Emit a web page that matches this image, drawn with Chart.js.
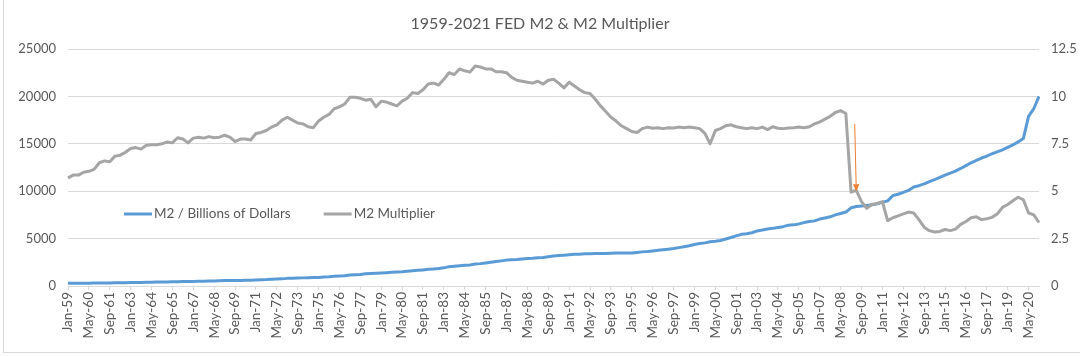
<!DOCTYPE html>
<html><head><meta charset="utf-8">
<script src="https://cdn.jsdelivr.net/npm/chart.js@4.4.1/dist/chart.umd.min.js"></script>
<style>
html,body{margin:0;padding:0;background:#fff;}
#wrap{position:relative;width:1080px;height:356px;overflow:hidden;}
#frame{position:absolute;left:3px;top:-1px;width:1076px;height:353px;border-left:1px solid #d9d9d9;border-bottom:1px solid #d9d9d9;pointer-events:none;}
</style></head><body>
<div id="wrap"><canvas id="c" width="1080" height="356"></canvas><div id="frame"></div></div>
<script>
// ---- categories: one point every 4 months, Jan-59 .. Jan-21 ----
const monthNames = ['Jan', 'May', 'Sep'];
const firstYear = 1959, lastYear = 2021;
const categories = [];
for (let y = firstYear; y <= lastYear; y++) {
  for (const m of monthNames) {
    if (y === lastYear && m !== 'Jan') break;
    categories.push(m + '-' + String(y % 100).padStart(2, '0'));
  }
}
const labelEvery = 4; // Jan-59, May-60, Sep-61 ...

// ---- M2, billions of dollars (left axis) ----
const m2Billions = [
  287, 293, 298,   298, 300, 305,   313, 320, 328,   336, 344, 352,   364, 372, 381,
  393, 400, 410,   425, 434, 444,   461, 465, 470,   483, 495, 510,   528, 537, 550,
  572, 578, 582,   590, 596, 611,   628, 655, 674,   713, 732, 752,   805, 820, 834,
  857, 871, 884,   908, 946, 980,   1027, 1060, 1090, 1163, 1190, 1225, 1285, 1310, 1340,
  1374, 1410, 1445, 1474, 1495, 1560, 1604, 1650, 1700, 1759, 1790, 1840, 1914, 2040, 2090,
  2133, 2180, 2220, 2310, 2360, 2430, 2500, 2580, 2650, 2730, 2770, 2790, 2840, 2900, 2930,
  2980, 3010, 3080, 3160, 3210, 3250, 3290, 3340, 3360, 3410, 3410, 3420, 3420, 3420, 3450,
  3470, 3490, 3480, 3490, 3540, 3600, 3640, 3700, 3760, 3820, 3880, 3950, 4050, 4150, 4250,
  4380, 4480, 4550, 4660, 4720, 4800, 4960, 5120, 5290, 5450, 5520, 5620, 5810, 5900, 6020,
  6080, 6180, 6260, 6420, 6450, 6550, 6690, 6800, 6870, 7060, 7180, 7300, 7500, 7650, 7800,
  8250, 8380, 8430, 8490, 8560, 8680, 8820, 8980, 9530, 9680, 9880, 10080, 10450, 10580, 10770,
  11020, 11230, 11450, 11700, 11900, 12120, 12400, 12700, 13000, 13250, 13500, 13700,
  13950, 14150, 14350, 14620, 14880, 15200, 15550, 17900, 18700, 20000
];

// ---- M2 multiplier (right axis) ----
const m2Multiplier = [
  5.7, 5.85, 5.85, 6.0, 6.05, 6.15, 6.5, 6.6, 6.55, 6.85,
  6.9, 7.05, 7.25, 7.3, 7.22, 7.42, 7.45, 7.45, 7.5, 7.6,
  7.55, 7.82, 7.75, 7.55, 7.8, 7.85, 7.8, 7.88, 7.82, 7.85,
  7.95, 7.85, 7.62, 7.75, 7.75, 7.7, 8.04, 8.1, 8.2, 8.38,
  8.5, 8.75, 8.9, 8.75, 8.6, 8.55, 8.4, 8.35, 8.7, 8.9,
  9.05, 9.35, 9.45, 9.6, 9.95, 9.95, 9.9, 9.8, 9.85, 9.45,
  9.75, 9.7, 9.6, 9.5, 9.75, 9.9, 10.2, 10.15, 10.35, 10.65,
  10.7, 10.6, 10.9, 11.25, 11.15, 11.45, 11.35, 11.28, 11.6, 11.55,
  11.45, 11.45, 11.3, 11.3, 11.25, 11.0, 10.85, 10.8, 10.75, 10.7,
  10.8, 10.65, 10.85, 10.9, 10.7, 10.45, 10.75, 10.55, 10.35, 10.2,
  10.15, 9.85, 9.5, 9.2, 8.9, 8.7, 8.45, 8.3, 8.15, 8.1,
  8.3, 8.38, 8.32, 8.35, 8.3, 8.35, 8.33, 8.38, 8.35, 8.38,
  8.35, 8.3, 8.05, 7.5, 8.2, 8.3, 8.45, 8.5, 8.4, 8.35,
  8.3, 8.35, 8.3, 8.38, 8.25, 8.4, 8.32, 8.3, 8.33, 8.35,
  8.38, 8.35, 8.4, 8.55, 8.65, 8.8, 8.95, 9.15, 9.25, 9.1,
  4.95, 5.05, 4.45, 4.1, 4.3, 4.35, 4.45, 3.45, 3.6, 3.7,
  3.8, 3.9, 3.85, 3.5, 3.1, 2.92, 2.85, 2.88, 2.98, 2.92,
  3.0, 3.25, 3.4, 3.6, 3.65, 3.5, 3.55, 3.62, 3.8, 4.15,
  4.3, 4.5, 4.68, 4.55, 3.85, 3.75, 3.35
];

// ---- axis ticks ----
const leftTicks = { min: 0, max: 25000, step: 5000 };
const rightTicks = { min: 0, max: 12.5, step: 2.5 };

// ---- annotation arrow (category position, multiplier value) ----
const arrowFrom = [150.7, 8.55];
const arrowTo = [151.0, 5.0];

const TXT = '#595959';
const FONT = 'Lato';

const excelLegend = {
  id: 'excelLegend',
  afterDraw(chart) {
    const ctx = chart.ctx, a = chart.chartArea;
    ctx.save();
    ctx.font = '13.5px ' + FONT;
    ctx.textBaseline = 'middle';
    ctx.fillStyle = TXT;
    let x = a.left + 56;
    const y = a.top + 165;
    chart.data.datasets.forEach(ds => {
      ctx.strokeStyle = ds.borderColor;
      ctx.lineWidth = 3;
      ctx.beginPath(); ctx.moveTo(x, y); ctx.lineTo(x + 28, y); ctx.stroke();
      x += 30;
      ctx.fillText(ds.label, x, y);
      x += ctx.measureText(ds.label).width + 33;
    });
    ctx.restore();
  }
};

const arrowPlugin = {
  id: 'arrow',
  afterDatasetsDraw(chart) {
    const xs = chart.scales.x, ys = chart.scales.y1, ctx = chart.ctx;
    const x1 = xs.getPixelForValue(arrowFrom[0]), y1 = ys.getPixelForValue(arrowFrom[1]);
    const x2 = xs.getPixelForValue(arrowTo[0]), y2 = ys.getPixelForValue(arrowTo[1]);
    const ang = Math.atan2(y2 - y1, x2 - x1);
    const L = 7, W = 3.2;
    ctx.save();
    ctx.strokeStyle = '#ED7D31'; ctx.fillStyle = '#ED7D31'; ctx.lineWidth = 1;
    ctx.beginPath(); ctx.moveTo(x1, y1);
    ctx.lineTo(x2 - Math.cos(ang) * L, y2 - Math.sin(ang) * L); ctx.stroke();
    ctx.beginPath(); ctx.moveTo(x2, y2);
    ctx.lineTo(x2 - Math.cos(ang) * L - Math.sin(ang) * W, y2 - Math.sin(ang) * L + Math.cos(ang) * W);
    ctx.lineTo(x2 - Math.cos(ang) * L + Math.sin(ang) * W, y2 - Math.sin(ang) * L - Math.cos(ang) * W);
    ctx.closePath(); ctx.fill();
    ctx.restore();
  }
};

function draw() {
  new Chart(document.getElementById('c'), {
    type: 'line',
    data: {
      labels: categories,
      datasets: [
        { label: 'M2 / Billions of Dollars', data: m2Billions, yAxisID: 'y',
          borderColor: '#5B9BD5', backgroundColor: '#5B9BD5', borderWidth: 3,
          pointRadius: 0, tension: 0, order: 1, borderJoinStyle: 'round' },
        { label: 'M2 Multiplier', data: m2Multiplier, yAxisID: 'y1',
          borderColor: '#A5A5A5', backgroundColor: '#A5A5A5', borderWidth: 3,
          pointRadius: 0, tension: 0, order: 0, borderJoinStyle: 'round' }
      ]
    },
    options: {
      responsive: false,
      animation: false,
      devicePixelRatio: 1,
      layout: { padding: 0 },
      plugins: {
        legend: { display: false },
        tooltip: { enabled: false },
        title: {
          display: true, text: '1959-2021 FED M2 & M2 Multiplier', color: TXT,
          font: { family: FONT, size: 16, weight: 'normal' },
          padding: { top: 14, bottom: 15.8 }
        }
      },
      scales: {
        x: {
          type: 'category', offset: false,
          grid: { drawOnChartArea: false, tickLength: 4,
                  color: c => (c.index % labelEvery === 0 ? '#d9d9d9' : 'rgba(0,0,0,0)') },
          border: { display: true, color: '#d9d9d9' },
          ticks: {
            autoSkip: false, minRotation: 90, maxRotation: 90, padding: 2, color: TXT,
            font: { family: FONT, size: 13.5 },
            callback: function (v, i) { return i % labelEvery === 0 ? this.getLabelForValue(v) : ''; }
          },
          afterFit: s => { s.height = 70; }
        },
        y: {
          position: 'left', min: leftTicks.min, max: leftTicks.max,
          ticks: { stepSize: leftTicks.step, padding: 12, color: TXT,
                   font: { family: FONT, size: 13 }, callback: v => String(v) },
          grid: { color: '#d9d9d9', drawTicks: false },
          border: { display: false },
          afterFit: s => { s.width = 68; }
        },
        y1: {
          position: 'right', min: rightTicks.min, max: rightTicks.max,
          ticks: { stepSize: rightTicks.step, padding: 12, color: TXT,
                   font: { family: FONT, size: 13 } },
          grid: { drawOnChartArea: false, drawTicks: false },
          border: { display: false },
          afterFit: s => { s.width = 41; }
        }
      }
    },
    plugins: [arrowPlugin, excelLegend]
  });
}
if (document.fonts && document.fonts.load) {
  Promise.all([document.fonts.load('13px Lato'), document.fonts.load('16px Lato')]).then(draw, draw);
} else { draw(); }
</script>
</body></html>
